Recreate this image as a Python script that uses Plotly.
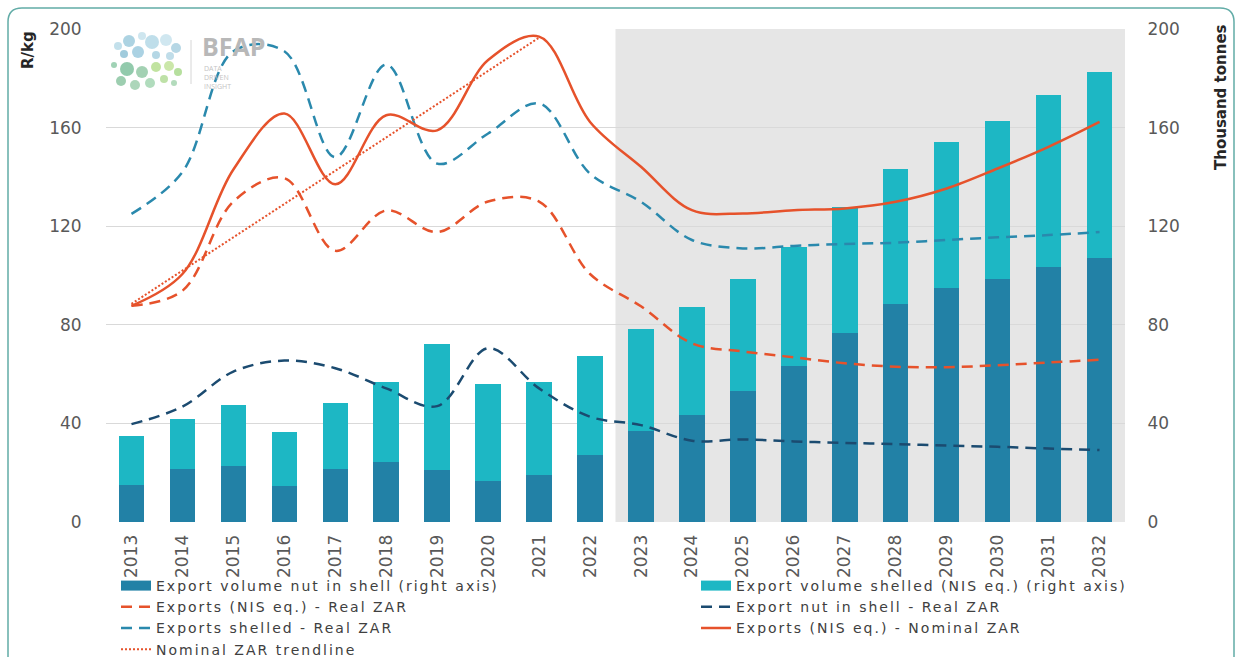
import plotly.graph_objects as go

# ---------------- data ----------------
years = [str(y) for y in range(2013, 2033)]
forecast_start = "2023"

vol_nut_in_shell = [14.9, 21.4, 22.6, 14.6, 21.4, 24.4, 20.9, 16.5, 19.1, 27.1,
                    36.9, 43.4, 53.3, 63.3, 76.6, 88.5, 95.1, 98.6, 103.6, 106.9]
vol_shelled = [20.1, 20.2, 25.0, 22.0, 26.7, 32.4, 51.2, 39.5, 37.7, 40.2,
               41.3, 43.8, 45.3, 48.4, 51.0, 54.8, 59.0, 64.1, 69.6, 75.6]

nis_real = [87.7, 93.8, 130.0, 139.5, 110.0, 126.4, 117.6, 130.0, 130.0, 100.6,
            87.5, 72.5, 69.2, 66.8, 64.4, 63.0, 62.8, 63.6, 64.7, 65.8]
nut_real = [39.7, 46.8, 61.0, 65.5, 62.4, 54.2, 47.0, 70.5, 54.2, 42.7,
            39.3, 33.0, 33.5, 32.7, 32.1, 31.6, 31.0, 30.5, 29.8, 29.2]
shelled_real = [125.0, 142.0, 191.0, 191.0, 148.0, 185.6, 145.4, 157.6, 169.8, 141.3,
                129.9, 114.4, 111.0, 112.0, 112.8, 113.3, 114.4, 115.5, 116.4, 117.6]
nis_nominal = [87.7, 100.6, 143.0, 165.7, 137.0, 165.0, 158.9, 187.4, 196.9, 162.3,
               144.1, 126.5, 125.2, 126.5, 127.2, 129.9, 135.3, 143.4, 152.2, 162.3]
trend_years = years[:9]
nominal_trend = [88.5, 102.0, 115.5, 129.0, 142.5, 156.0, 169.5, 183.0, 196.5]

y_ticks = [0, 40, 80, 120, 160, 200]

name_nut_vol = "Export volume nut in shell (right axis)"
name_shelled_vol = "Export volume shelled (NIS eq.) (right axis)"
name_nis_real = "Exports (NIS eq.) - Real ZAR"
name_nut_real = "Export nut in shell - Real ZAR"
name_shelled_real = "Exports shelled - Real ZAR"
name_nominal = "Exports (NIS eq.) - Nominal ZAR"
name_trend = "Nominal ZAR trendline"

# ---------------- styling ----------------
C_DARK = "#2281a6"
C_LIGHT = "#1db7c4"
C_RED = "#e6522b"
C_NAVY = "#1b4b70"
C_TEAL = "#2a89ad"
FONT = "DejaVu Sans"

W, H = 1240, 657
L, R, T, B = 106, 115, 29, 135
PW, PH = W - L - R, H - T - B


def px(x):
    return (x - L) / PW


def py(y):
    return (H - B - y) / PH


def wide(t):
    return f'<span style="letter-spacing:2px">{t}</span>'


fig = go.Figure()

fig.add_trace(go.Bar(x=years, y=vol_nut_in_shell, name=name_nut_vol,
                     marker=dict(color=C_DARK, line=dict(width=0)), yaxis="y", showlegend=False))
fig.add_trace(go.Bar(x=years, y=vol_shelled, name=name_shelled_vol,
                     marker=dict(color=C_LIGHT, line=dict(width=0)), yaxis="y", showlegend=False))

line_common = dict(mode="lines", yaxis="y2")
fig.add_trace(go.Scatter(x=years, y=nis_real, name=wide(name_nis_real),
                         line=dict(color=C_RED, width=2.5, dash="11px,7px", shape="spline", smoothing=1),
                         legend="legend", legendrank=2, **line_common))
fig.add_trace(go.Scatter(x=years, y=nut_real, name=wide(name_nut_real),
                         line=dict(color=C_NAVY, width=2.5, dash="11px,7px", shape="spline", smoothing=1),
                         legend="legend2", legendrank=2, **line_common))
fig.add_trace(go.Scatter(x=years, y=shelled_real, name=wide(name_shelled_real),
                         line=dict(color=C_TEAL, width=2.5, dash="11px,7px", shape="spline", smoothing=1),
                         legend="legend", legendrank=3, **line_common))
fig.add_trace(go.Scatter(x=years, y=nis_nominal, name=wide(name_nominal),
                         line=dict(color=C_RED, width=2.5, shape="spline", smoothing=1),
                         legend="legend2", legendrank=3, **line_common))
fig.add_trace(go.Scatter(x=trend_years, y=nominal_trend, name=wide(name_trend),
                         line=dict(color=C_RED, width=2, dash="2px,2px"),
                         legend="legend", legendrank=4, **line_common))

# legend entries for the bars drawn as wide rectangles (legend only, no data)
fig.add_trace(go.Scatter(x=[None], y=[None], mode="lines", name=wide(name_nut_vol),
                         line=dict(color=C_DARK, width=10), legend="legend", legendrank=1, yaxis="y2"))
fig.add_trace(go.Scatter(x=[None], y=[None], mode="lines", name=wide(name_shelled_vol),
                         line=dict(color=C_LIGHT, width=10), legend="legend2", legendrank=1, yaxis="y2"))

# forecast shading
i0 = years.index(forecast_start)
fig.add_shape(type="rect", xref="x", yref="y", x0=i0 - 0.5, x1=len(years) - 0.5,
              y0=y_ticks[0], y1=y_ticks[-1], fillcolor="#e6e6e6", line=dict(width=0), layer="below")

# outer rounded frame (top part)
fx0, fx1, fy0, r = 8, 1234, 8, 14
path = (f"M {px(fx0)},{py(H + 5)} L {px(fx0)},{py(fy0 + r)} "
        f"Q {px(fx0)},{py(fy0)} {px(fx0 + r)},{py(fy0)} "
        f"L {px(fx1 - r)},{py(fy0)} Q {px(fx1)},{py(fy0)} {px(fx1)},{py(fy0 + r)} "
        f"L {px(fx1)},{py(H + 5)}")
fig.add_shape(type="path", xref="paper", yref="paper", path=path,
              line=dict(color="#62aca7", width=1.5))

# BFAP logo (decorative)
dots = [(118, 46, 4, "#b9dbe7"), (129, 41, 6, "#9fcbdd"), (142, 36, 4, "#c5e2ec"),
        (152, 42, 7, "#b4d8e6"), (166, 40, 6, "#c8e3ed"), (176, 48, 5, "#a9d0e0"),
        (124, 54, 4, "#8fc2d6"), (138, 52, 6, "#9ccade"), (156, 55, 4, "#a8d0e0"),
        (170, 56, 4, "#b5d7e5"), (114, 65, 3, "#8fcaa8"), (127, 69, 7, "#7fc19d"),
        (142, 72, 6, "#93c9a6"), (156, 67, 5, "#b6de8f"), (169, 66, 5, "#c2e39a"),
        (178, 72, 4, "#a9d98d"), (121, 81, 5, "#8cc6a2"), (135, 85, 5, "#9dcfae"),
        (150, 83, 5, "#a3d6b2"), (164, 79, 4, "#b3dc98"), (174, 83, 3, "#a6d5b0")]
for (cx, cy, rr, col) in dots:
    fig.add_shape(type="circle", xref="paper", yref="paper",
                  x0=px(cx - rr), x1=px(cx + rr), y0=py(cy + rr), y1=py(cy - rr),
                  fillcolor=col, line=dict(width=0), opacity=0.85)
fig.add_shape(type="line", xref="paper", yref="paper", x0=px(191), x1=px(191), y0=py(40), y1=py(84),
              line=dict(color="#d6d6d6", width=1))
fig.add_annotation(xref="paper", yref="paper", x=px(200), y=py(46), text="<b>BFAP</b>",
                   showarrow=False, xanchor="left", yanchor="middle",
                   font=dict(family="Open Sans", size=25, color="#b8b8b8"))
fig.add_annotation(xref="paper", yref="paper", x=px(202), y=py(77), text="DATA<br>DRIVEN<br>INSIGHT",
                   showarrow=False, xanchor="left", yanchor="middle", align="left",
                   font=dict(family="Open Sans", size=7, color="#c4c4c4"))

# axis titles
fig.add_annotation(xref="paper", yref="paper", x=px(28), y=py(50), text="<b>R/kg</b>", textangle=-90,
                   showarrow=False, xanchor="center", yanchor="middle",
                   font=dict(family=FONT, size=15, color="#262626"))
fig.add_annotation(xref="paper", yref="paper", x=px(1221), y=py(97), text="<b>Thousand tonnes</b>",
                   textangle=-90, showarrow=False, xanchor="center", yanchor="middle",
                   font=dict(family=FONT, size=15, color="#262626"))

tickfont = dict(family=FONT, size=17, color="#595959")
legfont = dict(family=FONT, size=14, color="#404040")
fig.update_layout(
    width=W, height=H,
    margin=dict(l=L, r=R, t=T, b=B, autoexpand=False),
    paper_bgcolor="white", plot_bgcolor="white",
    barmode="stack", bargap=0.5,
    font=dict(family=FONT, color="#404040"),
    xaxis=dict(type="category", tickangle=-90, tickfont=dict(family=FONT, size=17, color="#595959"),
               showgrid=False, zeroline=False, showline=False,
               ticks="outside", ticklen=5, tickcolor="rgba(0,0,0,0)", fixedrange=True),
    yaxis=dict(side="right", range=[y_ticks[0], y_ticks[-1]], tickvals=y_ticks, tickfont=tickfont,
               showgrid=True, gridcolor="#d9d9d9", gridwidth=1, zeroline=False, showline=False,
               ticks="outside", ticklen=18, tickcolor="rgba(0,0,0,0)"),
    yaxis2=dict(side="left", overlaying="y", range=[y_ticks[0], y_ticks[-1]], tickvals=y_ticks,
                tickfont=tickfont, showgrid=False, zeroline=False, showline=False,
                ticks="outside", ticklen=20, tickcolor="rgba(0,0,0,0)"),
    legend=dict(orientation="v", x=px(116), y=py(570), xanchor="left", yanchor="top",
                font=legfont, traceorder="normal", bgcolor="rgba(0,0,0,0)",
                tracegroupgap=0),
    legend2=dict(orientation="v", x=px(696), y=py(570), xanchor="left", yanchor="top",
                 font=legfont, traceorder="normal", bgcolor="rgba(0,0,0,0)",
                 tracegroupgap=0),
    showlegend=True,
)

fig.write_html("out.html", config={"displayModeBar": False},
               post_script="document.body.style.margin='0';")
